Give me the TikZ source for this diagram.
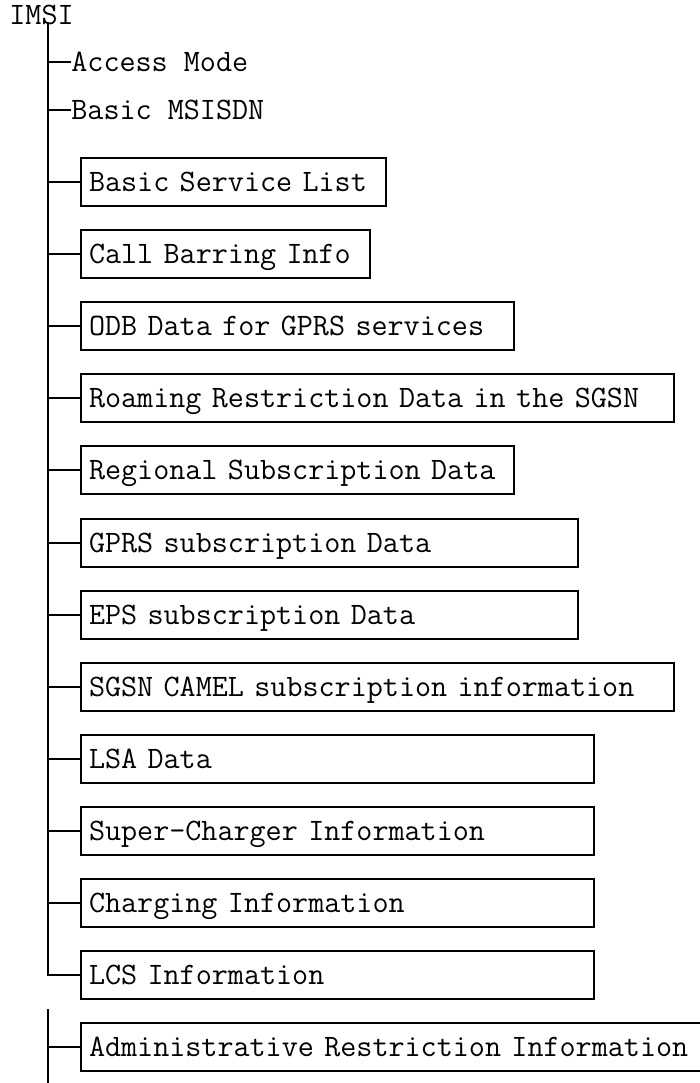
\documentclass[tikz,border=0pt]{standalone}
\usepackage{fontspec}
\begin{document}
\begin{tikzpicture}[x=0.5pt,y=-0.5pt,
    every node/.style={font=\ttfamily\fontsize{15.6pt}{18pt}\selectfont, text height=9pt, text depth=0pt},
    leaf/.style={anchor=west, inner sep=0pt},
    databox/.style={draw, line width=1pt, anchor=west, minimum height=24pt, inner xsep=4pt, inner ysep=0pt,
        align=left, text width=#1, execute at begin node={\hbox\bgroup}, execute at end node={\egroup}},
    branch/.style={line width=1pt}]
    % Page area
    \useasboundingbox (0,0) rectangle (700,1083);
    \clip (0,0) rectangle (700,1083);
    % Root
    \node[leaf] (imsi) at (9,15) {IMSI};
    \coordinate (top) at (48,22);
    % Plain entries
    \node[leaf] (access) at (71,62) {Access Mode};
    \node[leaf] (msisdn) at (71,110) {Basic MSISDN};
    % Boxed entries
    \node[databox=144.5pt] (servlist) at (80,182) {Basic Service List};
    \node[databox=136.5pt] (barring) at (80,254) {Call Barring Info};
    \node[databox=208.5pt] (odb) at (80,326) {ODB Data for GPRS services};
    \node[databox=288.5pt] (roaming) at (80,398) {Roaming Restriction Data in the SGSN};
    \node[databox=208.5pt] (regional) at (80,470) {Regional Subscription Data};
    \node[databox=240.5pt] (gprs) at (80,543) {GPRS subscription Data};
    \node[databox=240.5pt] (eps) at (80,615) {EPS subscription Data};
    \node[databox=288.5pt] (camel) at (80,687) {SGSN CAMEL subscription information};
    \node[databox=248.5pt] (lsa) at (80,759) {LSA Data};
    \node[databox=248.5pt] (supercharger) at (80,831) {Super-Charger Information};
    \node[databox=248.5pt] (charging) at (80,903) {Charging Information};
    \node[databox=248.5pt] (lcs) at (80,975) {LCS Information};
    \node[databox=304pt] (adminrestr) at (80,1047) {Administrative Restriction Information};
    % Main trunk ending in the corner at LCS
    \draw[branch] (top) |- (lcs.west);
    % Branches off the trunk
    \draw[branch] (top |- access.west) -- (access.west);
    \draw[branch] (top |- msisdn.west) -- (msisdn.west);
    \draw[branch] (top |- servlist.west) -- (servlist.west);
    \draw[branch] (top |- barring.west) -- (barring.west);
    \draw[branch] (top |- odb.west) -- (odb.west);
    \draw[branch] (top |- roaming.west) -- (roaming.west);
    \draw[branch] (top |- regional.west) -- (regional.west);
    \draw[branch] (top |- gprs.west) -- (gprs.west);
    \draw[branch] (top |- eps.west) -- (eps.west);
    \draw[branch] (top |- camel.west) -- (camel.west);
    \draw[branch] (top |- lsa.west) -- (lsa.west);
    \draw[branch] (top |- supercharger.west) -- (supercharger.west);
    \draw[branch] (top |- charging.west) -- (charging.west);
    % Second trunk below, running off the page
    \coordinate (lowtop) at (48,1009);
    \coordinate (lowbot) at (48,1083);
    \draw[branch] (lowtop) -- (lowbot);
    \draw[branch] (lowtop |- adminrestr.west) -- (adminrestr.west);
\end{tikzpicture}
\end{document}
